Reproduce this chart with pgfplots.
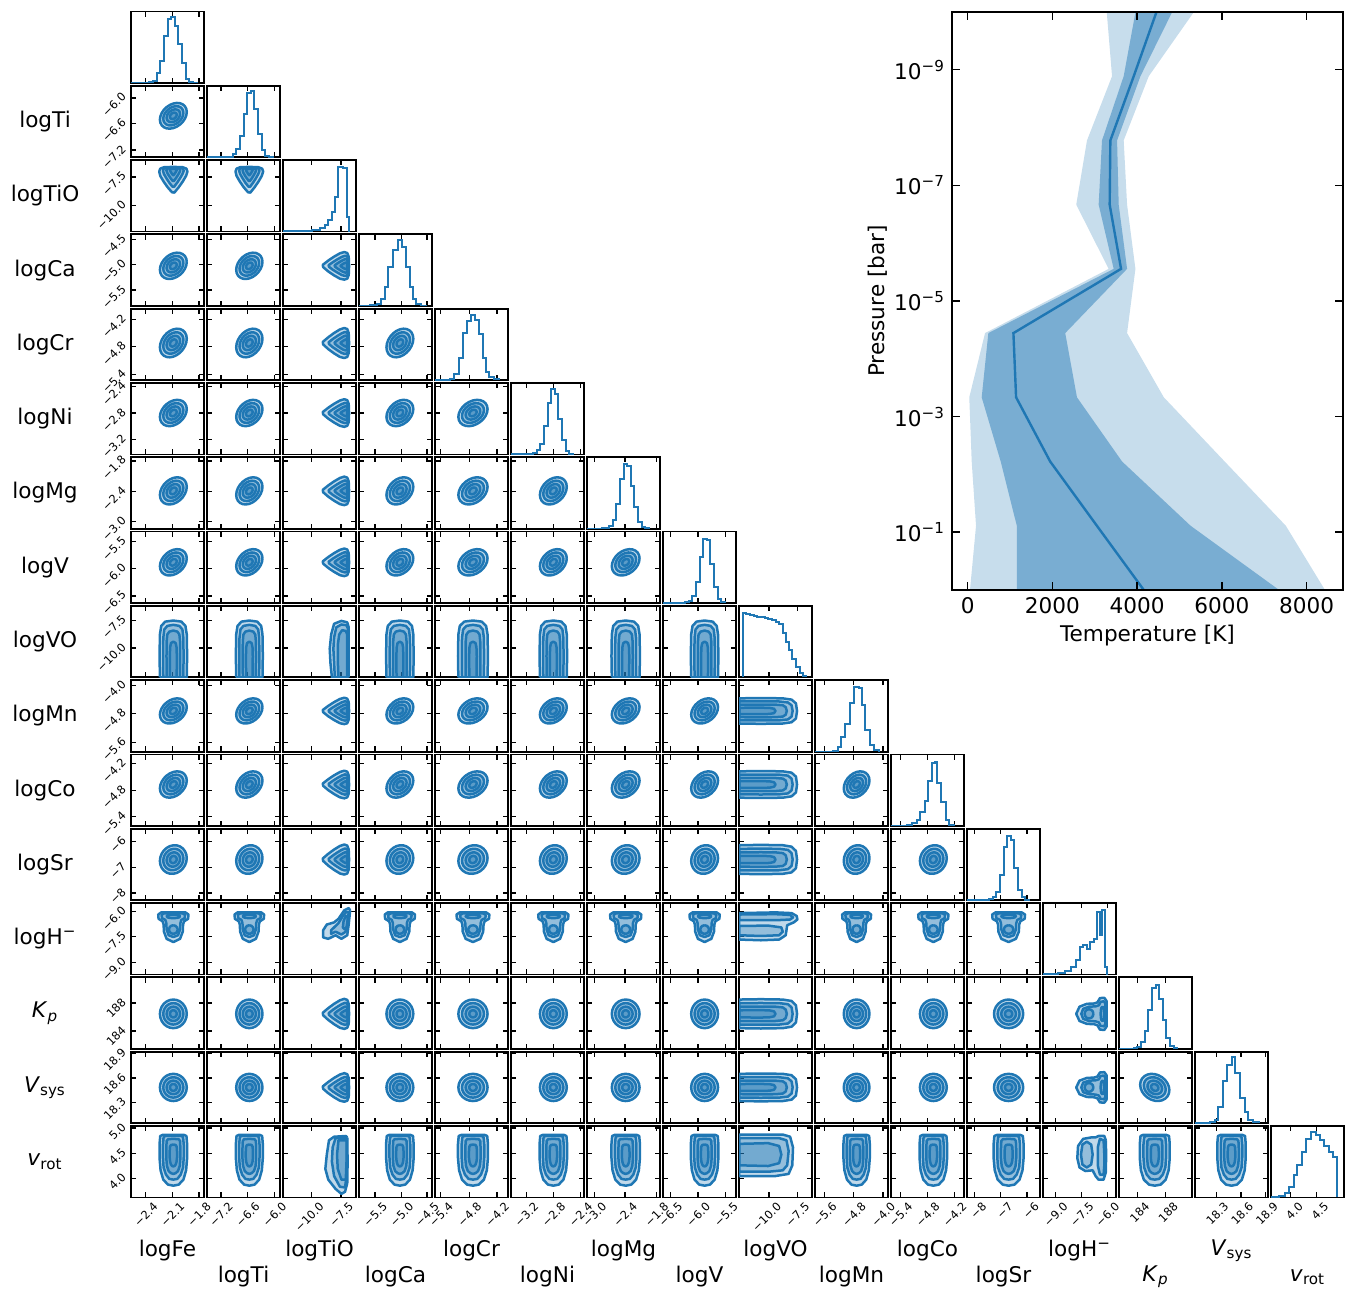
\documentclass[border=0pt]{standalone}
\usepackage{fontspec}
\setmainfont{DejaVu Sans}
\usepackage{pgfplots}
\usepackage{pgfplotstable}
\pgfplotsset{compat=1.18}
\definecolor{cb}{HTML}{1F77B4}
\newcommand\lblfont{\fontsize{10.8}{13}\selectfont}
\newcommand\tkfont{\fontsize{5.7}{6.5}\selectfont}
\newcommand\nm[1]{\csname nm#1\endcsname}
\newcommand\yt[1]{\ifcsname ty#1\endcsname\csname ty#1\endcsname\else\csname tp#1\endcsname\fi}

% ---------- parameter names, tick positions (fraction of panel) and labels
\expandafter\def\csname nm0\endcsname{logFe}
\expandafter\def\csname nm1\endcsname{logTi}
\expandafter\def\csname nm2\endcsname{logTiO}
\expandafter\def\csname nm3\endcsname{logCa}
\expandafter\def\csname nm4\endcsname{logCr}
\expandafter\def\csname nm5\endcsname{logNi}
\expandafter\def\csname nm6\endcsname{logMg}
\expandafter\def\csname nm7\endcsname{logV}
\expandafter\def\csname nm8\endcsname{logVO}
\expandafter\def\csname nm9\endcsname{logMn}
\expandafter\def\csname nm10\endcsname{logCo}
\expandafter\def\csname nm11\endcsname{logSr}
\expandafter\def\csname nm12\endcsname{logH\textsuperscript{−}}
\expandafter\def\csname nm13\endcsname{\textit{K}\textsubscript{\textit{p}}}
\expandafter\def\csname nm14\endcsname{\textit{V}\textsubscript{sys}}
\expandafter\def\csname nm15\endcsname{\textit{v}\textsubscript{rot}}

\expandafter\def\csname tp0\endcsname{0.2,0.565,0.93}
\expandafter\def\csname tl0\endcsname{−2.4,−2.1,−1.8}
\expandafter\def\csname tp1\endcsname{0.19,0.555,0.92}
\expandafter\def\csname ty1\endcsname{0.1,0.475,0.83}
\expandafter\def\csname tl1\endcsname{−7.2,−6.6,−6.0}
\expandafter\def\csname tp2\endcsname{0.39,0.795}
\expandafter\def\csname ty2\endcsname{0.36,0.765}
\expandafter\def\csname tl2\endcsname{−10.0,−7.5}
\expandafter\def\csname tp3\endcsname{0.22,0.58,0.93}
\expandafter\def\csname tl3\endcsname{−5.5,−5.0,−4.5}
\expandafter\def\csname tp4\endcsname{0.08,0.47,0.85}
\expandafter\def\csname tl4\endcsname{−5.4,−4.8,−4.2}
\expandafter\def\csname tp5\endcsname{0.21,0.58,0.95}
\expandafter\def\csname tl5\endcsname{−3.2,−2.8,−2.4}
\expandafter\def\csname tp6\endcsname{0.1,0.52,0.95}
\expandafter\def\csname tl6\endcsname{−3.0,−2.4,−1.8}
\expandafter\def\csname tp7\endcsname{0.1,0.48,0.86}
\expandafter\def\csname tl7\endcsname{−6.5,−6.0,−5.5}
\expandafter\def\csname tp8\endcsname{0.41,0.8}
\expandafter\def\csname tl8\endcsname{−10.0,−7.5}
\expandafter\def\csname tp9\endcsname{0.13,0.53,0.93}
\expandafter\def\csname tl9\endcsname{−5.6,−4.8,−4.0}
\expandafter\def\csname tp10\endcsname{0.13,0.5,0.87}
\expandafter\def\csname tl10\endcsname{−5.4,−4.8,−4.2}
\expandafter\def\csname tp11\endcsname{0.1,0.46,0.82}
\expandafter\def\csname tl11\endcsname{−8,−7,−6}
\expandafter\def\csname tp12\endcsname{0.17,0.53,0.88}
\expandafter\def\csname tl12\endcsname{−9.0,−7.5,−6.0}
\expandafter\def\csname tp13\endcsname{0.25,0.64}
\expandafter\def\csname tl13\endcsname{184,188}
\expandafter\def\csname tp14\endcsname{0.29,0.63,0.97}
\expandafter\def\csname tl14\endcsname{18.3,18.6,18.9}
\expandafter\def\csname tp15\endcsname{0.27,0.62,0.97}
\expandafter\def\csname tl15\endcsname{4.0,4.5,5.0}

% centre and width of each (near-Gaussian) posterior, as fraction of the panel
\def\cenlist{{0.58,0.58,0.80,0.56,0.52,0.58,0.53,0.57,0.40,0.57,0.58,0.57,0.70,0.49,0.50,0.55}}
\def\siglist{{0.092,0.09,0.1,0.092,0.1,0.092,0.095,0.092,0.1,0.088,0.092,0.1,0.1,0.1,0.095,0.1}}
\def\grplist{{1,1,0,1,1,1,1,1,0,1,1,2,0,3,4,0}}
\newcommand\spc[1]{\ifcase#1 N\or N\or T\or N\or N\or N\or N\or N\or V\or N\or N\or N\or H\or N\or N\or R\fi}

% ---------- 1D histograms (bin left edge, height)
\pgfplotstableread{
x y
0.00 0.002
0.20 0.005
0.25 0.01
0.30 0.03
0.35 0.14
0.40 0.31
0.45 0.66
0.50 0.90
0.55 0.92
0.60 0.80
0.65 0.54
0.70 0.28
0.75 0.06
0.80 0.01
0.85 0.005
0.90 0.0
}\hFe
\pgfplotstableread{
x y
0.00 0.002
0.20 0.005
0.30 0.01
0.35 0.04
0.40 0.12
0.45 0.30
0.50 0.60
0.55 0.90
0.60 0.92
0.65 0.67
0.70 0.32
0.75 0.10
0.80 0.02
0.85 0.005
0.90 0.0
}\hTi
\pgfplotstableread{
x y
0.00 0.005
0.10 0.008
0.20 0.012
0.30 0.015
0.40 0.025
0.50 0.045
0.57 0.09
0.62 0.16
0.665 0.28
0.71 0.48
0.757 0.90
0.82 0.89
0.87 0.20
0.91 0.0
}\hTiO
\pgfplotstableread{
x y
0.00 0.002
0.15 0.01
0.24 0.03
0.306 0.10
0.352 0.26
0.40 0.55
0.466 0.78
0.534 0.92
0.594 0.83
0.639 0.55
0.694 0.27
0.74 0.10
0.785 0.03
0.854 0.005
0.92 0.0
}\hCa
\pgfplotstableread{
x y
0.00 0.002
0.20 0.02
0.265 0.09
0.324 0.31
0.379 0.66
0.434 0.83
0.493 0.91
0.553 0.84
0.598 0.64
0.653 0.31
0.699 0.12
0.744 0.04
0.813 0.01
0.87 0.0
}\hCr
\pgfplotstableread{
x y
0.00 0.002
0.25 0.01
0.30 0.02
0.35 0.06
0.40 0.15
0.45 0.40
0.50 0.72
0.55 0.92
0.60 0.85
0.65 0.50
0.70 0.20
0.75 0.05
0.80 0.01
0.85 0.0
}\hNi
\pgfplotstableread{
x y
0.00 0.002
0.20 0.005
0.25 0.01
0.30 0.04
0.35 0.12
0.40 0.35
0.45 0.70
0.50 0.90
0.55 0.88
0.60 0.60
0.65 0.30
0.70 0.10
0.75 0.03
0.80 0.01
0.85 0.0
}\hMg
\pgfplotstableread{
x y
0.00 0.002
0.25 0.005
0.30 0.01
0.35 0.03
0.40 0.10
0.45 0.30
0.50 0.65
0.55 0.90
0.60 0.88
0.65 0.55
0.70 0.22
0.75 0.06
0.80 0.01
0.85 0.0
}\hV
\pgfplotstableread{
x y
0.05 0.0
0.05 0.90
0.10 0.88
0.15 0.87
0.20 0.86
0.25 0.85
0.30 0.84
0.35 0.83
0.40 0.82
0.45 0.80
0.50 0.78
0.55 0.74
0.60 0.62
0.64 0.50
0.69 0.38
0.73 0.26
0.78 0.14
0.83 0.06
0.87 0.02
0.92 0.0
}\hVO
\pgfplotstableread{
x y
0.00 0.002
0.25 0.01
0.32 0.06
0.36 0.20
0.41 0.39
0.48 0.68
0.54 0.90
0.60 0.89
0.65 0.65
0.69 0.30
0.75 0.10
0.81 0.02
0.87 0.0
}\hMn
\pgfplotstableread{
x y
0.00 0.002
0.22 0.01
0.29 0.04
0.35 0.09
0.40 0.19
0.46 0.35
0.51 0.63
0.56 0.88
0.60 0.90
0.63 0.60
0.69 0.33
0.75 0.09
0.79 0.02
0.86 0.0
}\hCo
\pgfplotstableread{
x y
0.00 0.002
0.25 0.005
0.30 0.02
0.35 0.05
0.40 0.12
0.45 0.35
0.50 0.75
0.55 0.90
0.60 0.85
0.65 0.45
0.70 0.15
0.75 0.04
0.80 0.01
0.85 0.0
}\hSr
\pgfplotstableread{
x y
0.00 0.002
0.10 0.01
0.20 0.02
0.30 0.05
0.38 0.10
0.45 0.20
0.50 0.38
0.55 0.42
0.60 0.36
0.65 0.45
0.70 0.50
0.74 0.88
0.78 0.55
0.81 0.90
0.85 0.10
0.88 0.0
}\hHm
\pgfplotstableread{
x y
0.00 0.002
0.20 0.01
0.25 0.03
0.30 0.10
0.35 0.25
0.40 0.55
0.45 0.85
0.50 0.90
0.55 0.70
0.60 0.40
0.65 0.15
0.70 0.04
0.75 0.01
0.80 0.0
}\hKp
\pgfplotstableread{
x y
0.00 0.002
0.20 0.01
0.27 0.04
0.32 0.23
0.38 0.59
0.44 0.82
0.50 0.92
0.55 0.70
0.61 0.35
0.68 0.16
0.73 0.04
0.80 0.01
0.87 0.0
}\hVs
\pgfplotstableread{
x y
0.00 0.002
0.05 0.005
0.11 0.02
0.19 0.06
0.25 0.15
0.31 0.32
0.36 0.46
0.42 0.63
0.48 0.82
0.55 0.91
0.61 0.87
0.67 0.80
0.73 0.72
0.80 0.64
0.85 0.57
0.90 0.0
}\hVr
\expandafter\def\csname drawhist0\endcsname{\addplot[hst] table{\hFe};}
\expandafter\def\csname drawhist1\endcsname{\addplot[hst] table{\hTi};}
\expandafter\def\csname drawhist2\endcsname{\addplot[hst] table{\hTiO};}
\expandafter\def\csname drawhist3\endcsname{\addplot[hst] table{\hCa};}
\expandafter\def\csname drawhist4\endcsname{\addplot[hst] table{\hCr};}
\expandafter\def\csname drawhist5\endcsname{\addplot[hst] table{\hNi};}
\expandafter\def\csname drawhist6\endcsname{\addplot[hst] table{\hMg};}
\expandafter\def\csname drawhist7\endcsname{\addplot[hst] table{\hV};}
\expandafter\def\csname drawhist8\endcsname{\addplot[hst] table{\hVO};}
\expandafter\def\csname drawhist9\endcsname{\addplot[hst] table{\hMn};}
\expandafter\def\csname drawhist10\endcsname{\addplot[hst] table{\hCo};}
\expandafter\def\csname drawhist11\endcsname{\addplot[hst] table{\hSr};}
\expandafter\def\csname drawhist12\endcsname{\addplot[hst] table{\hHm};}
\expandafter\def\csname drawhist13\endcsname{\addplot[hst] table{\hKp};}
\expandafter\def\csname drawhist14\endcsname{\addplot[hst] table{\hVs};}
\expandafter\def\csname drawhist15\endcsname{\addplot[hst] table{\hVr};}

% ---------- contour shapes
\pgfplotstableread{
u v
1 0
0.9659 0.2588
0.8660 0.5
0.7071 0.7071
0.5 0.8660
0.2588 0.9659
0 1
-0.2588 0.9659
-0.5 0.8660
-0.7071 0.7071
-0.8660 0.5
-0.9659 0.2588
-1 0
-0.9659 -0.2588
-0.8660 -0.5
-0.7071 -0.7071
-0.5 -0.8660
-0.2588 -0.9659
0 -1
0.2588 -0.9659
0.5 -0.8660
0.7071 -0.7071
0.8660 -0.5
0.9659 -0.2588
1 0
}\circtab
% TiO: a = TiO (panel fraction), b = other parameter (in sigma)
\pgfplotstableread{
a1 b1 a2 b2 a3 b3 a4 b4
0.905 0.0 0.896 0.0 0.888 0.0 0.879 0.0
0.90 1.4 0.892 1.05 0.885 0.7 0.878 0.35
0.88 1.95 0.878 1.46 0.875 0.98 0.873 0.49
0.84 2.1 0.848 1.54 0.855 1.03 0.863 0.51
0.78 1.9 0.803 1.35 0.825 0.9 0.848 0.45
0.70 1.4 0.743 0.98 0.785 0.65 0.828 0.33
0.62 0.8 0.683 0.56 0.745 0.38 0.808 0.19
0.545 0.15 0.626 0.11 0.708 0.08 0.789 0.04
0.55 -0.2 0.63 -0.15 0.71 -0.1 0.79 -0.05
0.62 -0.85 0.683 -0.6 0.745 -0.4 0.808 -0.2
0.70 -1.45 0.743 -1.01 0.785 -0.68 0.828 -0.34
0.78 -1.95 0.803 -1.39 0.825 -0.93 0.848 -0.46
0.84 -2.1 0.848 -1.54 0.855 -1.03 0.863 -0.51
0.88 -1.95 0.878 -1.46 0.875 -0.98 0.873 -0.49
0.90 -1.4 0.892 -1.05 0.885 -0.7 0.878 -0.35
0.905 0.0 0.896 0.0 0.888 0.0 0.879 0.0
}\Ttab
% VO
\pgfplotstableread{
a1 b1 a2 b2 a3 b3 a4 b4
0 -2.0 0 -1.5 0 -1 0 -0.5
0.3 -2.05 0.3 -1.52 0.3 -1.02 0.3 -0.52
0.6 -2.0 0.55 -1.5 0.5 -1 0.42 -0.48
0.72 -1.8 0.67 -1.35 0.6 -0.9 0.48 -0.35
0.78 -1.2 0.72 -0.9 0.64 -0.6 0.5 0
0.795 0 0.735 0 0.655 0 0.5 0
0.78 1.2 0.72 0.9 0.64 0.6 0.48 0.35
0.72 1.8 0.67 1.35 0.6 0.9 0.42 0.48
0.6 2.0 0.55 1.5 0.5 1 0.3 0.52
0.3 2.05 0.3 1.52 0.3 1.02 0 0.5
0 2.0 0 1.5 0 1 0 -0.5
0 -2.0 0 -1.5 0 -1 0 -0.5
}\Vtab
% H-
\pgfplotstableread{
a1 b1 a2 b2 a3 b3 a4 b4
0.87 0 0.855 0 0.84 0 0.69 0
0.87 1.8 0.855 1.4 0.838 0.5 0.682 0.33
0.84 2.25 0.835 1.75 0.83 0.85 0.66 0.56
0.78 2.2 0.79 1.7 0.815 1.0 0.63 0.65
0.745 1.6 0.765 1.2 0.8 0.85 0.6 0.56
0.70 1.45 0.72 1.05 0.792 0.5 0.578 0.33
0.60 1.4 0.63 1.0 0.79 0 0.57 0
0.50 1.0 0.55 0.7 0.792 -0.5 0.578 -0.33
0.455 0 0.525 0 0.8 -0.85 0.6 -0.56
0.50 -1.0 0.55 -0.7 0.815 -1.0 0.63 -0.65
0.60 -1.4 0.63 -1.0 0.83 -0.85 0.66 -0.56
0.70 -1.45 0.72 -1.05 0.838 -0.5 0.682 -0.33
0.745 -1.6 0.765 -1.2 0.84 0 0.69 0
0.78 -2.2 0.79 -1.7 0.84 0 0.69 0
0.84 -2.25 0.835 -1.75 0.84 0 0.69 0
0.87 -1.8 0.855 -1.4 0.84 0 0.69 0
0.87 0 0.855 0 0.84 0 0.69 0
}\Htab
% v_rot
\pgfplotstableread{
a1 b1 a2 b2 a3 b3 a4 b4
0.875 0 0.86 0 0.82 0 0.74 0
0.875 1.6 0.86 1.2 0.815 0.8 0.735 0.35
0.86 1.95 0.845 1.45 0.79 1.0 0.71 0.5
0.75 2.05 0.74 1.55 0.68 1.05 0.64 0.55
0.55 2.05 0.56 1.55 0.55 1.05 0.56 0.55
0.38 1.9 0.42 1.45 0.44 0.95 0.5 0.48
0.25 1.5 0.32 1.1 0.37 0.7 0.46 0.35
0.18 0.8 0.26 0.6 0.34 0.35 0.44 0.18
0.165 0 0.25 0 0.33 0 0.435 0
0.18 -0.8 0.26 -0.6 0.34 -0.35 0.44 -0.18
0.25 -1.5 0.32 -1.1 0.37 -0.7 0.46 -0.35
0.38 -1.9 0.42 -1.45 0.44 -0.95 0.5 -0.48
0.55 -2.05 0.56 -1.55 0.55 -1.05 0.56 -0.55
0.75 -2.05 0.74 -1.55 0.68 -1.05 0.64 -0.55
0.86 -1.95 0.845 -1.45 0.79 -1.0 0.71 -0.5
0.875 -1.6 0.86 -1.2 0.815 -0.8 0.735 -0.35
0.875 0 0.86 0 0.82 0 0.74 0
}\Rtab
% pairs of two non-Gaussian parameters (panel fractions)
\pgfplotstableread{
x1 y1 x2 y2 x3 y3
0.9 0.0 0.89 0.0 0.88 0.0
0.9 0.7 0.89 0.68 0.88 0.6
0.88 0.77 0.87 0.73 0.86 0.65
0.8 0.79 0.8 0.74 0.81 0.66
0.7 0.75 0.73 0.7 0.77 0.6
0.66 0.6 0.7 0.56 0.75 0.45
0.64 0.4 0.69 0.4 0.75 0.25
0.65 0.2 0.7 0.2 0.76 0.0
0.67 0.0 0.71 0.0 0.88 0.0
0.9 0.0 0.89 0.0 0.88 0.0
}\TVtab
\pgfplotstableread{
x1 y1 x2 y2 x3 y3
0.92 0.9 0.9 0.87 0.89 0.8
0.9 0.93 0.87 0.88 0.86 0.82
0.84 0.9 0.82 0.82 0.83 0.75
0.76 0.78 0.76 0.72 0.82 0.66
0.7 0.73 0.7 0.66 0.85 0.63
0.6 0.7 0.66 0.62 0.88 0.68
0.55 0.62 0.66 0.57 0.89 0.8
0.55 0.52 0.72 0.6 0.89 0.8
0.62 0.5 0.8 0.56 0.89 0.8
0.72 0.55 0.86 0.6 0.89 0.8
0.8 0.5 0.88 0.72 0.89 0.8
0.88 0.55 0.9 0.87 0.89 0.8
0.9 0.7 0.9 0.87 0.89 0.8
0.92 0.9 0.9 0.87 0.89 0.8
}\THtab
\pgfplotstableread{
x1 y1 x2 y2 x3 y3
0.88 0.84 0.875 0.83 0.87 0.8
0.86 0.86 0.72 0.83 0.76 0.8
0.7 0.85 0.68 0.7 0.74 0.6
0.63 0.8 0.67 0.5 0.75 0.4
0.6 0.6 0.7 0.3 0.8 0.25
0.58 0.4 0.78 0.15 0.86 0.25
0.62 0.25 0.85 0.14 0.87 0.5
0.72 0.12 0.87 0.3 0.87 0.8
0.8 0.05 0.875 0.55 0.87 0.8
0.85 0.08 0.875 0.83 0.87 0.8
0.88 0.2 0.875 0.83 0.87 0.8
0.885 0.5 0.875 0.83 0.87 0.8
0.88 0.84 0.875 0.83 0.87 0.8
}\TRtab
\pgfplotstableread{
x1 y1 x2 y2 x3 y3
0 0.86 0 0.84 0 0.68
0.5 0.87 0.5 0.845 0.4 0.685
0.72 0.86 0.7 0.835 0.58 0.66
0.79 0.82 0.74 0.8 0.6 0.6
0.8 0.77 0.7 0.77 0.55 0.55
0.75 0.73 0.5 0.76 0.3 0.54
0.66 0.69 0 0.76 0 0.55
0.64 0.55 0 0.84 0 0.68
0.55 0.49 0 0.84 0 0.68
0.3 0.48 0 0.84 0 0.68
0 0.49 0 0.84 0 0.68
0 0.86 0 0.84 0 0.68
}\VHtab
\pgfplotstableread{
x1 y1 x2 y2 x3 y3
0 0.88 0 0.83 0 0.75
0.6 0.88 0.55 0.83 0.4 0.76
0.7 0.85 0.65 0.8 0.55 0.72
0.74 0.7 0.68 0.65 0.58 0.6
0.73 0.45 0.66 0.45 0.55 0.48
0.68 0.33 0.6 0.38 0.4 0.44
0.5 0.3 0.4 0.36 0 0.45
0 0.3 0 0.36 0 0.75
0 0.88 0 0.83 0 0.75
}\VRtab
\pgfplotstableread{
x1 y1 x2 y2 x3 y3
0.86 0.8 0.68 0.6 0.84 0.6
0.84 0.86 0.66 0.74 0.83 0.8
0.76 0.86 0.6 0.78 0.78 0.82
0.72 0.84 0.54 0.74 0.75 0.7
0.66 0.84 0.52 0.6 0.75 0.45
0.55 0.82 0.54 0.46 0.78 0.32
0.48 0.72 0.6 0.42 0.83 0.32
0.47 0.55 0.66 0.46 0.84 0.45
0.5 0.42 0.68 0.6 0.84 0.6
0.58 0.37 0.68 0.6 0.84 0.6
0.68 0.38 0.68 0.6 0.84 0.6
0.72 0.3 0.68 0.6 0.84 0.6
0.76 0.25 0.68 0.6 0.84 0.6
0.83 0.25 0.68 0.6 0.84 0.6
0.86 0.35 0.68 0.6 0.84 0.6
0.865 0.6 0.68 0.6 0.84 0.6
0.86 0.8 0.68 0.6 0.84 0.6
}\HRtab

% ---------- T-P profile
\pgfplotstableread{
T P
4457 1e-10
3920 1.2915e-9
3368 1.668e-8
3352 2.154e-7
3621 2.782e-6
1080 3.594e-5
1143 4.642e-4
1948 5.995e-3
3050 7.743e-2
4157 1
}\tpmed
\pgfplotstableread{
T P
3283 1e-10
3408 1.2915e-9
2817 1.668e-8
2563 2.154e-7
3328 2.782e-6
410 3.594e-5
38 4.642e-4
95 5.995e-3
197 7.743e-2
55 1
8434 1
7510 7.743e-2
6067 5.995e-3
4630 4.642e-4
3763 3.594e-5
3960 2.782e-6
3763 2.154e-7
3683 1.668e-8
4275 1.2915e-9
5340 1e-10
}\tplight
\pgfplotstableread{
T P
3962 1e-10
3683 1.2915e-9
3171 1.668e-8
3092 2.154e-7
3447 2.782e-6
488 3.594e-5
331 4.642e-4
780 5.995e-3
1160 7.743e-2
1160 1
7351 1
5262 7.743e-2
3645 5.995e-3
2580 4.642e-4
2303 3.594e-5
3763 2.782e-6
3565 2.154e-7
3527 1.668e-8
4078 1.2915e-9
4828 1e-10
}\tpdark

% ---------- styles and drawing helpers
\pgfplotsset{
  cornerax/.style={
    anchor=north west, scale only axis, width=36.5pt, height=35.75pt,
    xmin=0, xmax=1, ymin=0, ymax=1,
    axis line style={line width=0.9pt},
    tick align=inside, xtick pos=both, ytick pos=both,
    major tick length=2.6pt,
    every tick/.append style={line width=0.65pt, black},
    tick label style={font=\tkfont, inner sep=1.3pt},
    xticklabel style={xshift=3.5pt, rotate=45, anchor=north east},
    yticklabel style={rotate=45, anchor=south east},
    xlabel style={font=\lblfont, anchor=center},
    ylabel style={font=\lblfont, rotate=-90, anchor=center},
    minor tick num=0,
  },
  ctr/.style={draw=cb, line width=1.25pt, fill=cb, fill opacity=0.28, line join=round},
  hst/.style={draw=cb, line width=1pt, const plot},
}
\newcommand\ellev[1]{\addplot[ctr] table[x expr={\cx+#1*\sx*\thisrow{u}}, y expr={\cy+#1*\sy*(\rhov*\thisrow{u}+\rr*\thisrow{v})}]{\circtab};}
\newcommand\drawgeneric{\ellev{2}\ellev{1.5}\ellev{1}\ellev{0.5}}
\newcommand\collev[3]{\addplot[ctr] table[x=#2, y expr={\cy+\sy*\thisrow{#3}}]{#1};}
\newcommand\rowlev[3]{\addplot[ctr] table[x expr={\cx+\sx*\thisrow{#3}}, y=#2]{#1};}
\newcommand\crlev[3]{\addplot[ctr] table[x=#2, y=#3]{#1};}
\newcommand\colT{\collev\Ttab{a1}{b1}\collev\Ttab{a2}{b2}\collev\Ttab{a3}{b3}\collev\Ttab{a4}{b4}}
\newcommand\colV{\collev\Vtab{a1}{b1}\collev\Vtab{a2}{b2}\collev\Vtab{a3}{b3}\collev\Vtab{a4}{b4}}
\newcommand\colH{\collev\Htab{a1}{b1}\collev\Htab{a2}{b2}\collev\Htab{a3}{b3}\collev\Htab{a4}{b4}}
\newcommand\rowT{\rowlev\Ttab{a1}{b1}\rowlev\Ttab{a2}{b2}\rowlev\Ttab{a3}{b3}\rowlev\Ttab{a4}{b4}}
\newcommand\rowV{\rowlev\Vtab{a1}{b1}\rowlev\Vtab{a2}{b2}\rowlev\Vtab{a3}{b3}\rowlev\Vtab{a4}{b4}}
\newcommand\rowH{\rowlev\Htab{a1}{b1}\rowlev\Htab{a2}{b2}\rowlev\Htab{a3}{b3}\rowlev\Htab{a4}{b4}}
\newcommand\rowR{\rowlev\Rtab{a1}{b1}\rowlev\Rtab{a2}{b2}\rowlev\Rtab{a3}{b3}\rowlev\Rtab{a4}{b4}}
\newcommand\crossTV{\crlev\TVtab{x1}{y1}\crlev\TVtab{x2}{y2}\crlev\TVtab{x3}{y3}}
\newcommand\crossTH{\crlev\THtab{x1}{y1}\crlev\THtab{x2}{y2}\crlev\THtab{x3}{y3}}
\newcommand\crossTR{\crlev\TRtab{x1}{y1}\crlev\TRtab{x2}{y2}\crlev\TRtab{x3}{y3}}
\newcommand\crossVH{\crlev\VHtab{x1}{y1}\crlev\VHtab{x2}{y2}\crlev\VHtab{x3}{y3}}
\newcommand\crossVR{\crlev\VRtab{x1}{y1}\crlev\VRtab{x2}{y2}\crlev\VRtab{x3}{y3}}
\newcommand\crossHR{\crlev\HRtab{x1}{y1}\crlev\HRtab{x2}{y2}\crlev\HRtab{x3}{y3}}
\newcommand\drawpair{%
  \edef\si{\spc\i}\edef\sj{\spc\j}%
  \if N\si
    \if N\sj \drawgeneric \else \csname row\sj\endcsname \fi
  \else
    \if N\sj \csname col\si\endcsname \else \csname cross\si\sj\endcsname \fi
  \fi}

\begin{document}
\begin{tikzpicture}
\path[use as bounding box] (0,0) rectangle (675.5pt,647pt);
% diagonal histograms
\foreach \i in {0,...,15}{%
  \pgfmathsetmacro\px{65.5+38*\i}%
  \pgfmathsetmacro\py{641.25-37.15*\i}%
  \edef\axopen{\noexpand\begin{axis}[cornerax, at={(\px pt,\py pt)},
     xtick={\ifnum\i=15 0.27,0.62\else\csname tp\i\endcsname\fi}, ytick=\noexpand\empty,
     \ifnum\i=15 xticklabels={4.0,4.5}, xlabel={\noexpand\nm{15}}, xlabel style={at={(axis description cs:0.5,-1.112)}}\else xticklabels={,,,}\fi]}%
  \axopen
    \csname drawhist\i\endcsname
  \end{axis}
}
% 2D panels
\foreach \i in {0,...,14}{%
  \pgfmathtruncatemacro\js{\i+1}%
  \foreach \j in {\js,...,15}{%
    \pgfmathsetmacro\px{65.5+38*\i}%
    \pgfmathsetmacro\py{641.25-37.15*\j}%
    \pgfmathsetmacro\cx{\cenlist[\i]}%
    \pgfmathsetmacro\sx{\siglist[\i]}%
    \pgfmathsetmacro\cy{\cenlist[\j]}%
    \pgfmathsetmacro\sy{\siglist[\j]}%
    \pgfmathtruncatemacro\gi{\grplist[\i]}%
    \pgfmathtruncatemacro\gj{\grplist[\j]}%
    \pgfmathsetmacro\rhov{(\gi==1)*(\gj==1)*0.3+((\gi==1)*(\gj==2)+(\gi==2)*(\gj==1))*0.1-(\gi==3)*(\gj==4)*0.2}%
    \pgfmathsetmacro\rr{sqrt(1-\rhov*\rhov)}%
    \edef\axopen{\noexpand\begin{axis}[cornerax, at={(\px pt,\py pt)},
      xtick={\csname tp\i\endcsname}, ytick={\yt{\j}},
      \ifnum\j=15 xticklabels={\csname tl\i\endcsname}, xlabel={\noexpand\nm{\i}}, xlabel style={at={(axis description cs:0.5,\ifodd\i -1.112\else -0.748\fi)}}\else xticklabels={,,,}\fi,
      \ifnum\i=0 yticklabels={\csname tl\j\endcsname}, ylabel={\noexpand\nm{\j}}, ylabel style={at={(axis description cs:-1.178,0.5)}}\else yticklabels={,,,}\fi]}%
    \axopen
      \drawpair
    \end{axis}
  }
}
% temperature-pressure profile
\begin{axis}[at={(476pt,641pt)}, anchor=north west, scale only axis, width=195.5pt, height=289pt,
  xmin=-370, xmax=8860, ymode=log, ymin=1e-10, ymax=1, y dir=reverse,
  xtick={0,2000,4000,6000,8000}, xticklabels={0,2000,4000,6000,8000},
  ytick={1e-9,1e-7,1e-5,1e-3,1e-1},
  yticklabels={10\textsuperscript{−9},10\textsuperscript{−7},10\textsuperscript{−5},10\textsuperscript{−3},10\textsuperscript{−1}},
  yminorticks=false, tick align=inside, xtick pos=both, ytick pos=both,
  major tick length=4pt, every tick/.append style={line width=0.7pt, black},
  axis line style={line width=0.9pt},
  tick label style={font=\lblfont},
  xlabel={Temperature [K]}, ylabel={Pressure [bar]},
  label style={font=\lblfont},
  xlabel style={at={(axis description cs:0.5,-0.0796)}, anchor=center},
  ylabel style={at={(axis description cs:-0.189,0.5)}, anchor=center},
  axis on top]
\addplot[fill=cb!25, draw=none] table[x=T,y=P]{\tplight};
\addplot[fill=cb!60, draw=none] table[x=T,y=P]{\tpdark};
\addplot[cb, line width=1.2pt] table[x=T,y=P]{\tpmed};
\end{axis}
\end{tikzpicture}
\end{document}
